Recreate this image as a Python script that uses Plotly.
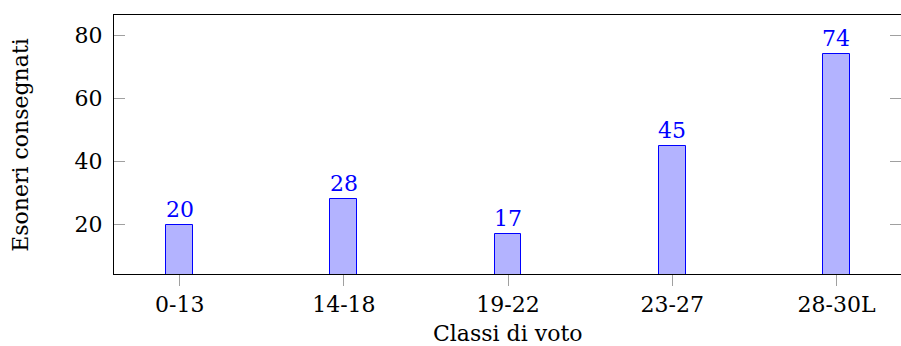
import plotly.graph_objects as go

# Vote classes and number of exemptions handed in
classes = ["0-13", "14-18", "19-22", "23-27", "28-30L"]
counts = [20, 28, 17, 45, 74]
y_ticks = [20, 40, 60, 80]

FONT = "DejaVu Serif"
FSIZE = 22
BLUE = "rgb(0,0,255)"
FILL = "rgb(179,179,255)"
TICK_GRAY = "rgb(160,160,160)"

xs = list(range(len(classes)))

fig = go.Figure()
fig.add_trace(go.Bar(
    x=xs, y=counts, width=0.163,
    marker=dict(color=FILL, line=dict(color=BLUE, width=1)),
    showlegend=False, hoverinfo="skip",
))
# Invisible trace to carry the mirrored right-hand y ticks
fig.add_trace(go.Scatter(x=[xs[0]], y=[counts[0]], yaxis="y2", mode="markers",
                         marker=dict(opacity=0), showlegend=False, hoverinfo="skip"))

for xi, v in zip(xs, counts):
    fig.add_annotation(x=xi, y=v, text=str(v), showarrow=False,
                       yanchor="bottom", yshift=1,
                       font=dict(family=FONT, size=FSIZE, color=BLUE))

fig.add_annotation(xref="paper", yref="paper", x=0.5, y=-0.228,
                   text="Classi di voto", showarrow=False,
                   yanchor="middle", font=dict(family=FONT, size=FSIZE, color="black"))
fig.add_annotation(xref="paper", yref="paper", x=-0.119, y=0.5,
                   text="Esoneri consegnati", showarrow=False, textangle=-90,
                   xanchor="center", yanchor="middle",
                   font=dict(family=FONT, size=FSIZE, color="black"))

yrange = [4.4, 86.4]
fig.update_layout(
    width=901, height=346,
    margin=dict(l=114, r=0, t=15, b=72),
    paper_bgcolor="white", plot_bgcolor="white",
    font=dict(family=FONT, size=FSIZE, color="black"),
    xaxis=dict(range=[-0.4, 4.393], tickmode="array", tickvals=xs, ticktext=classes,
               showline=True, linecolor="black", linewidth=1, mirror=True,
               ticks="outside", ticklen=11, tickcolor=TICK_GRAY, tickwidth=1,
               showgrid=False, zeroline=False, fixedrange=True),
    yaxis=dict(range=yrange, tickmode="array", tickvals=y_ticks,
               showline=True, linecolor="black", linewidth=1,
               ticks="inside", ticklen=11, tickcolor=TICK_GRAY, tickwidth=1,
               showgrid=False, zeroline=False, ticklabelstandoff=6),
    yaxis2=dict(range=yrange, overlaying="y", side="right", tickmode="array",
                tickvals=y_ticks, showticklabels=False, showline=False,
                ticks="inside", ticklen=11, tickcolor=TICK_GRAY, tickwidth=1,
                showgrid=False, zeroline=False),
    bargap=0,
)

fig.write_html("out.html")
